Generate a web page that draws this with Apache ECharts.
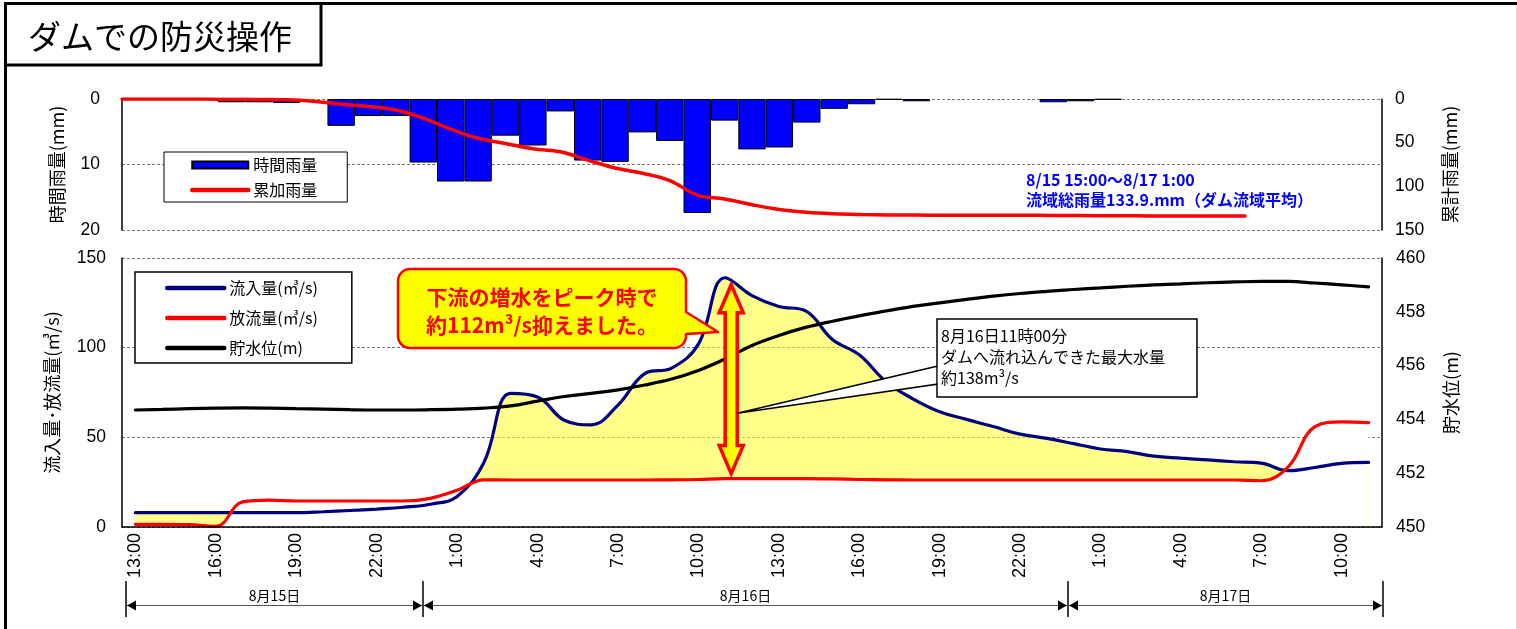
<!DOCTYPE html>
<html><head><meta charset="utf-8">
<script src="https://cdn.jsdelivr.net/npm/echarts@6/dist/echarts.min.js"></script>
<style>html,body{margin:0;padding:0;background:#fff;}#c{width:1517px;height:629px;}</style>
</head><body><div id="c"></div>
<script>
// ---------- data ----------
const hourLabels = ['13:00','14:00','15:00','16:00','17:00','18:00','19:00','20:00','21:00','22:00','23:00',
  '0:00','1:00','2:00','3:00','4:00','5:00','6:00','7:00','8:00','9:00','10:00','11:00','12:00',
  '13:00','14:00','15:00','16:00','17:00','18:00','19:00','20:00','21:00','22:00','23:00',
  '0:00','1:00','2:00','3:00','4:00','5:00','6:00','7:00','8:00','9:00','10:00','11:00'];
const rainHourly = [0,0,0,0,0.5,0.5,0.6,0,4.1,2.6,
  2.6,9.7,12.6,12.6,5.6,7.1,1.9,9.4,9.6,5.1,
  6.4,17.4,3.3,7.7,7.4,3.6,1.5,0.8,0.1,0.35,
  0,0,0,0,0.5,0.35,0.1,0,0,0,
  0,0,0,0,0,0,0];
const rainCumulative = [0,0,0,0.1,0.3,0.5,0.8,2.5,6,8.5,
  12.5,22,34.5,45,51,57,60.5,70,79,85,
  93.5,110,114.5,121,126.5,129.8,131.5,132.3,132.7,132.9,
  133,133,133.1,133.2,133.3,133.5,133.7,133.8,133.9,133.9,133.9,133.9,
  null,null,null,null,null];
const inflow = [8,8,8,8,8,8,8,8.5,9.2,10,11,
  12.7,17,36,74.5,72.5,59.5,57,68,85.5,88.6,102,139,129,
  123,120.5,104.5,96,81,71.5,64.3,60,56,51.8,49.4,
  46.5,43.5,42,39.5,38.4,37.4,36.4,35.6,31.4,33.2,35.5,36];
const outflow = [1.5,1.5,1.3,0.3,14,15,14.5,14.5,14.5,14.5,14.5,
  16,20.5,26.3,26.2,26.2,26.2,26.2,26.2,26.2,26.3,26.5,27,27,
  27,27,26.8,26.5,26.3,26.2,26.2,26.2,26.2,26.2,26.2,
  26.2,26.2,26.2,26.2,26.2,26.2,26.2,25.8,33.5,56,58.6,58.2];
const waterLevel = [454.35,454.37,454.40,454.42,454.43,454.42,454.40,454.38,454.36,454.35,454.35,
  454.36,454.38,454.42,454.50,454.68,454.85,454.97,455.10,455.28,455.50,455.82,456.25,456.75,
  457.12,457.42,457.65,457.85,458.03,458.20,458.33,458.46,458.58,458.68,458.76,
  458.83,458.89,458.95,459.00,459.04,459.08,459.11,459.13,459.13,459.07,459.00,458.93];
const dayLabels = ['8月15日','8月16日','8月17日'];
const peakIndex = 22;
const peakText = ['8月16日11時00分','ダムへ流れ込んできた最大水量','約138m³/s'];
const calloutText = ['下流の増水をピーク時で','約112m³/s抑えました。'];
const rainNote = ['8/15 15:00～8/17 1:00','流域総雨量133.9.mm（ダム流域平均）'];

// ---------- chart ----------
const NUM = "'Liberation Sans', Arial, sans-serif";
const JP = "'Noto Sans CJK JP', sans-serif";
const NARROW = "'Liberation Sans Narrow','Arial Narrow','Liberation Sans',sans-serif";
const chart = echarts.init(document.getElementById('c'), null, {renderer: 'canvas'});

const yBase = {
  axisLine: {show: true, lineStyle: {color: '#000', width: 1.5}},
  axisTick: {show: false},
  axisLabel: {color: '#000', fontSize: 17.5, fontFamily: NUM},
  nameLocation: 'middle', nameRotate: 90,
  nameTextStyle: {color: '#000', fontSize: 18, fontFamily: JP},
  splitLine: {show: true, lineStyle: {color: '#777', width: 1, type: [3, 2]}}
};
const hideSym = {opacity: 0};

const option = {
  animation: false,
  backgroundColor: '#fff',
  grid: [
    {left: 122, top: 99, width: 1260, height: 131, outerBoundsMode: 'none'},
    {left: 122, top: 258, width: 1260, height: 269, outerBoundsMode: 'none'}
  ],
  legend: [
    {left: 164, top: 152, orient: 'vertical', padding: [4, 30, 3, 26],
     backgroundColor: '#fff', borderColor: '#000', borderWidth: 1, borderRadius: 0,
     itemWidth: 56, itemHeight: 7, itemGap: 7,
     lineStyle: {width: 4.5, cap: 'round'},
     textStyle: {fontSize: 16, fontFamily: JP, color: '#000', lineHeight: 18},
     data: [{name: '時間雨量', icon: 'rect'}, {name: '累加雨量', itemStyle: hideSym}]},
    {left: 135, top: 272, orient: 'vertical', padding: [6, 34, 5, 30],
     backgroundColor: '#fff', borderColor: '#000', borderWidth: 1.5, borderRadius: 0,
     itemWidth: 57, itemHeight: 4, itemGap: 10,
     lineStyle: {width: 4.5, cap: 'round'},
     textStyle: {fontSize: 16, fontFamily: JP, color: '#000', lineHeight: 20},
     data: [{name: '流入量(㎥/s)', itemStyle: hideSym}, {name: '放流量(㎥/s)', itemStyle: hideSym}, {name: '貯水位(m)', itemStyle: hideSym}]}
  ],
  xAxis: [
    {type: 'category', gridIndex: 0, data: hourLabels, boundaryGap: false,
     axisLine: {show: false}, axisTick: {show: false}, axisLabel: {show: false}, splitLine: {show: false}},
    {type: 'category', gridIndex: 1, data: hourLabels, boundaryGap: true, z: 5,
     axisLine: {show: true, onZero: false, lineStyle: {color: '#000', width: 1.5}},
     axisTick: {show: false},
     axisLabel: {interval: 2, rotate: 90, margin: 6, color: '#000', fontSize: 18, fontFamily: NARROW},
     splitLine: {show: false}}
  ],
  yAxis: [
    Object.assign({}, yBase, {type: 'value', gridIndex: 0, min: 0, max: 20, interval: 10, inverse: true,
      name: '時間雨量(mm)', nameGap: 56, axisLabel: Object.assign({}, yBase.axisLabel, {margin: 22})}),
    Object.assign({}, yBase, {type: 'value', gridIndex: 0, position: 'right', min: 0, max: 150, interval: 50, inverse: true,
      name: '累計雨量(mm)', nameGap: 59, splitLine: {show: false},
      axisLabel: Object.assign({}, yBase.axisLabel, {margin: 13})}),
    Object.assign({}, yBase, {type: 'value', gridIndex: 1, min: 0, max: 150, interval: 50,
      name: '流入量･放流量(㎥/s)', nameGap: 61, axisLabel: Object.assign({}, yBase.axisLabel, {margin: 16})}),
    Object.assign({}, yBase, {type: 'value', gridIndex: 1, position: 'right', min: 450, max: 460, interval: 2,
      name: '貯水位(m)', nameGap: 60, splitLine: {show: false},
      axisLabel: Object.assign({}, yBase.axisLabel, {margin: 14})})
  ],
  series: [
    {name: '時間雨量', type: 'bar', xAxisIndex: 0, yAxisIndex: 0,
     data: rainHourly.map(v => v === 0 ? null : v), barWidth: '100%',
     itemStyle: {color: '#0000FF', borderColor: '#000', borderWidth: 1}},
    {name: '累加雨量', type: 'line', xAxisIndex: 0, yAxisIndex: 1, data: rainCumulative,
     smooth: 0.4, symbol: 'none', connectNulls: false,
     lineStyle: {color: '#FF0000', width: 3.5, cap: 'round'}, itemStyle: {color: '#FF0000'}},
    {name: 'inflowFill', type: 'line', xAxisIndex: 1, yAxisIndex: 2, data: inflow, smooth: 0.4,
     symbol: 'none', silent: true, lineStyle: {width: 0}, areaStyle: {color: 'rgba(255,255,40,0.55)', opacity: 1}},
    {name: 'outflowFill', type: 'line', xAxisIndex: 1, yAxisIndex: 2, data: outflow, smooth: 0.4,
     symbol: 'none', silent: true, lineStyle: {width: 0}, areaStyle: {color: '#fff', opacity: 1}},
    {name: '流入量(㎥/s)', type: 'line', xAxisIndex: 1, yAxisIndex: 2, data: inflow, smooth: 0.4, symbol: 'none',
     lineStyle: {color: '#000080', width: 3.2, cap: 'round'}, itemStyle: {color: '#000080'}},
    {name: '放流量(㎥/s)', type: 'line', xAxisIndex: 1, yAxisIndex: 2, data: outflow, smooth: 0.4, symbol: 'none',
     lineStyle: {color: '#FF0000', width: 3.2, cap: 'round'}, itemStyle: {color: '#FF0000'}},
    {name: '貯水位(m)', type: 'line', xAxisIndex: 1, yAxisIndex: 3, data: waterLevel, smooth: 0.4, symbol: 'none',
     lineStyle: {color: '#000', width: 3.2, cap: 'round'}, itemStyle: {color: '#000'}}
  ]
};
chart.setOption(option);

// ---------- annotations ----------
const pTop = chart.convertToPixel({seriesIndex: 4}, [peakIndex, inflow[peakIndex]]);
const pBot = chart.convertToPixel({seriesIndex: 5}, [peakIndex, outflow[peakIndex]]);
const ax = pTop[0] + 6, ay0 = pTop[1] + 7, ay1 = pBot[1] - 5;

function roundRectTail(x0, y0, x1, y1, r, tail) {
  const pts = [];
  const arc = (cx, cy, a0, a1) => { for (let k = 0; k <= 8; k++) { const a = a0 + (a1 - a0) * k / 8; pts.push([cx + r * Math.cos(a), cy + r * Math.sin(a)]); } };
  arc(x1 - r, y0 + r, -Math.PI / 2, 0);
  tail.forEach(p => pts.push(p));
  arc(x1 - r, y1 - r, 0, Math.PI / 2);
  arc(x0 + r, y1 - r, Math.PI / 2, Math.PI);
  arc(x0 + r, y0 + r, Math.PI, 1.5 * Math.PI);
  return pts;
}

const g = [];
// frame
g.push({type: 'line', shape: {x1: 4, y1: 3.5, x2: 1517, y2: 3.5}, style: {stroke: '#000', lineWidth: 3}});
g.push({type: 'line', shape: {x1: 5.5, y1: 2, x2: 5.5, y2: 629}, style: {stroke: '#000', lineWidth: 3}});
g.push({type: 'line', shape: {x1: 1516.5, y1: 5, x2: 1516.5, y2: 629}, style: {stroke: '#d8d8d8', lineWidth: 1}});
g.push({type: 'rect', shape: {x: 5.5, y: 3.5, width: 315.5, height: 61.5}, style: {fill: '#fff', stroke: '#000', lineWidth: 3}});
g.push({type: 'text', x: 28, y: 36, style: {text: 'ダムでの防災操作', fontSize: 33, fontFamily: JP, fill: '#000', verticalAlign: 'middle'}});
// rain note
rainNote.forEach((t, i) => g.push({type: 'text', x: 1026, y: 180 + i * 20,
  style: {text: t, fontSize: 16, fontWeight: 'bold', fontFamily: JP, fill: '#0000FF', verticalAlign: 'middle'}}));
// red callout
g.push({type: 'polygon', shape: {points: roundRectTail(398, 269, 686, 348, 12, [[686, 312], [718, 332], [686, 334]])},
  style: {fill: '#FFFF00', stroke: '#FF0000', lineWidth: 2.5, lineJoin: 'round'}});
calloutText.forEach((t, i) => g.push({type: 'text', x: 542, y: 297 + i * 28,
  style: {text: t, fontSize: 21, fontWeight: 'bold', fontFamily: JP, fill: '#FF0000', align: 'center', verticalAlign: 'middle'}}));
// double arrow
g.push({type: 'polygon', shape: {points: [[ax, ay0], [ax + 12, ay0 + 28], [ax + 6, ay0 + 28], [ax + 6, ay1 - 28], [ax + 12, ay1 - 28],
  [ax, ay1], [ax - 12, ay1 - 28], [ax - 6, ay1 - 28], [ax - 6, ay0 + 28], [ax - 12, ay0 + 28]]},
  style: {fill: '#FFFF00', stroke: '#FF0000', lineWidth: 3.5, lineJoin: 'miter'}});
// peak callout
const tipX = ax + 6, tipY = (ay0 + ay1) / 2 + 34;
g.push({type: 'polygon', shape: {points: [[tipX, tipY], [938, 366], [938, 384]]}, style: {fill: '#fff', stroke: '#000', lineWidth: 1.5}});
g.push({type: 'rect', shape: {x: 937, y: 319, width: 260, height: 78}, style: {fill: '#fff', stroke: '#000', lineWidth: 1.5}});
g.push({type: 'rect', shape: {x: 937.8, y: 367, width: 3, height: 16}, style: {fill: '#fff'}});
peakText.forEach((t, i) => g.push({type: 'text', x: 941, y: 336 + i * 21,
  style: {text: t, fontSize: 16, fontFamily: JP, fill: '#000', verticalAlign: 'middle'}}));
// date brackets
const dayX = [126, 423, 1068, 1383];
const by = 605.5;
dayX.forEach(x => g.push({type: 'line', shape: {x1: x, y1: 581, x2: x, y2: 617}, style: {stroke: '#000', lineWidth: 1.5}}));
for (let d = 0; d < 3; d++) {
  const xa = dayX[d] + 1, xb = dayX[d + 1] - 1;
  g.push({type: 'line', shape: {x1: xa, y1: by, x2: xb, y2: by}, style: {stroke: '#555', lineWidth: 1}});
  g.push({type: 'polygon', shape: {points: [[xa, by], [xa + 9, by - 5], [xa + 9, by + 5]]}, style: {fill: '#000'}});
  g.push({type: 'polygon', shape: {points: [[xb, by], [xb - 9, by - 5], [xb - 9, by + 5]]}, style: {fill: '#000'}});
  g.push({type: 'text', x: (dayX[d] + dayX[d + 1]) / 2, y: 596,
    style: {text: dayLabels[d], fontSize: 14, fontFamily: JP, fill: '#000', align: 'center', verticalAlign: 'middle'}});
}
g.forEach(e => { e.z = 100; e.silent = true; });
chart.setOption({graphic: g});
</script>
</body></html>
